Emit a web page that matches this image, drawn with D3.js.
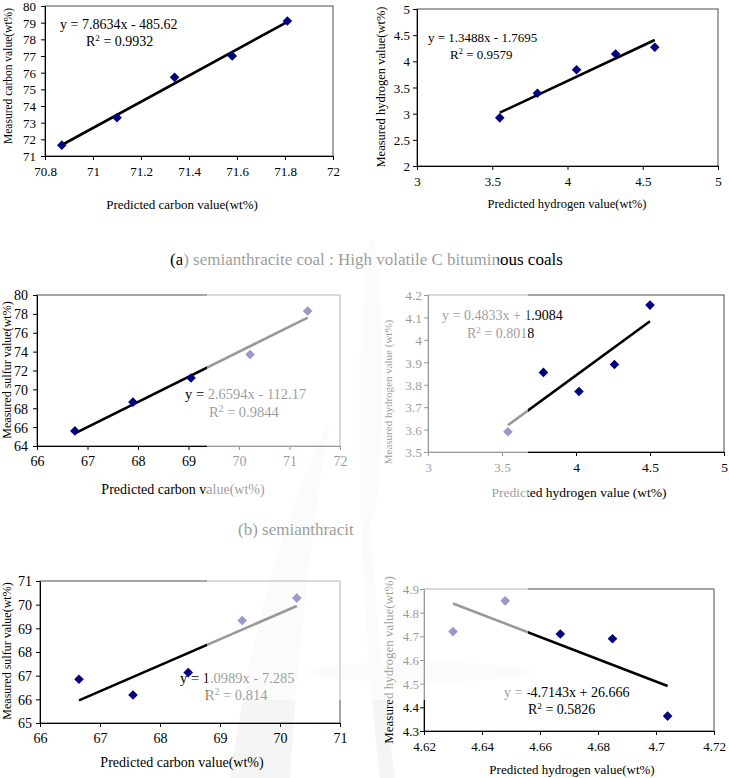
<!DOCTYPE html>
<html><head><meta charset="utf-8">
<script src="https://cdn.jsdelivr.net/npm/d3@7"></script>
<style>html,body{margin:0;padding:0;background:#fff;}svg{display:block;}svg text{font-family:"Liberation Serif","Times New Roman",Times,"DejaVu Serif",serif;}</style>
</head><body>
<svg id="chart" width="729" height="778"></svg>
<script>
// ---- data ----
const p1X = [70.87, 71.10, 71.34, 71.58, 71.81];
const p1Y = [71.65, 73.30, 75.72, 77.00, 79.10];
const p1Fit = [7.8634, -485.62];
const p1Eq = ["y = 7.8634x - 485.62", "0.9932"];
const p1XTicks = [70.8, 71, 71.2, 71.4, 71.6, 71.8, 72];
const p1YTicks = [71, 72, 73, 74, 75, 76, 77, 78, 79, 80];

const p2X = [3.55, 3.80, 4.06, 4.32, 4.58];
const p2Y = [2.92, 3.39, 3.84, 4.14, 4.27];
const p2Fit = [1.3488, -1.7695];
const p2Eq = ["y = 1.3488x - 1.7695", "0.9579"];
const p2XTicks = [3, 3.5, 4, 4.5, 5];
const p2YTicks = [2, 2.5, 3, 3.5, 4, 4.5, 5];

const p3X = [66.75, 67.90, 69.05, 70.22, 71.36];
const p3Y = [65.60, 68.65, 71.20, 73.70, 78.30];
const p3Fit = [2.6594, -112.17];
const p3Eq = ["y = 2.6594x - 112.17", "0.9844"];
const p3XTicks = [66, 67, 68, 69, 70, 71, 72];
const p3YTicks = [64, 66, 68, 70, 72, 74, 76, 78, 80];

const p4X = [3.54, 3.78, 4.02, 4.26, 4.50];
const p4Y = [3.59, 3.855, 3.77, 3.89, 4.155];
const p4Fit = [0.4833, 1.9084];
const p4Eq = ["y = 0.4833x + 1.9084", "0.8018"];
const p4XTicks = [3, 3.5, 4, 4.5, 5];
const p4YTicks = [3.5, 3.6, 3.7, 3.8, 3.9, 4, 4.1, 4.2];

const p5X = [66.65, 67.55, 68.47, 69.37, 70.28];
const p5Y = [66.85, 66.18, 67.13, 69.33, 70.28];
const p5Fit = [1.0989, -7.285];
const p5Eq = ["y = 1.0989x - 7.285", "0.814"];
const p5XTicks = [66, 67, 68, 69, 70, 71];
const p5YTicks = [65, 66, 67, 68, 69, 70, 71];

const p6X = [4.630, 4.648, 4.667, 4.685, 4.704];
const p6Y = [4.72, 4.85, 4.71, 4.69, 4.363];
const p6Fit = [-4.7143, 26.666];
const p6Eq = ["y = -4.7143x + 26.666", "0.5826"];
const p6XTicks = [4.62, 4.64, 4.66, 4.68, 4.7, 4.72];
const p6YTicks = [4.3, 4.4, 4.5, 4.6, 4.7, 4.8, 4.9];

const xTitles = ["Predicted carbon value(wt%)", "Predicted hydrogen value(wt%)", "Predicted carbon value(wt%)",
                 "Predicted hydrogen value (wt%)", "Predicted carbon value(wt%)", "Predicted hydrogen value(wt%)"];
const yTitles = ["Measured carbon value(wt%)", "Measured hydrogen value(wt%)", "Measured sulfur value(wt%)",
                 "Measured hydrogen value (wt%)", "Measured sulfur value(wt%)", "Measured hydrogen value(wt%)"];
const captions = ["(a) semianthracite coal : High volatile C bituminous coals", "(b) semianthracit"];

// ---- layout ----
const layout = [
  {x0:45,x1:333,y0:6,y1:156, tick:13, ytf:11.5, xtf:13, eqf:14, eq:[60,29], r2:[86,46], xt:[182,209], yt:[8,76], ylOff:9},
  {x0:417,x1:718,y0:9,y1:166, tick:13, ytf:12.5, xtf:12.5, eqf:13, eq:[428,42], r2:[450,59], xt:[567,208], yt:[381,87], ylOff:7},
  {x0:37,x1:340,y0:295,y1:446, tick:14, ytf:12, xtf:14, eqf:14.5, eq:[185,399], r2:[209,417], xt:[183,494], yt:[7,370], ylOff:9},
  {x0:428,x1:724,y0:295,y1:452, tick:13.5, ytf:11, xtf:13.5, eqf:14, eq:[442,320], r2:[467,338], xt:[579,497], yt:[388,392], ylOff:6},
  {x0:40,x1:340,y0:581,y1:723, tick:14, ytf:12, xtf:14, eqf:14.5, eq:[180,683], r2:[205,700], xt:[182,767], yt:[7,651], ylOff:8},
  {x0:424,x1:714,y0:589,y1:731, tick:13, ytf:13, xtf:13, eqf:14, eq:[504,697], r2:[528,714], xt:[572,774], yt:[388,660], ylOff:5}
];

const panels = [
  {xs:p1X, ys:p1Y, fit:p1Fit, eq:p1Eq, xt:p1XTicks, yt:p1YTicks},
  {xs:p2X, ys:p2Y, fit:p2Fit, eq:p2Eq, xt:p2XTicks, yt:p2YTicks},
  {xs:p3X, ys:p3Y, fit:p3Fit, eq:p3Eq, xt:p3XTicks, yt:p3YTicks},
  {xs:p4X, ys:p4Y, fit:p4Fit, eq:p4Eq, xt:p4XTicks, yt:p4YTicks},
  {xs:p5X, ys:p5Y, fit:p5Fit, eq:p5Eq, xt:p5XTicks, yt:p5YTicks},
  {xs:p6X, ys:p6Y, fit:p6Fit, eq:p6Eq, xt:p6XTicks, yt:p6YTicks}
];

const svg = d3.select("#chart");

// faint watermark leaves behind everything
const wm = svg.append("g").attr("fill", "#f5f5f5");
wm.append("ellipse").attr("cx", 372).attr("cy", 380).attr("rx", 10).attr("ry", 140);
wm.append("ellipse").attr("cx", 420).attr("cy", 672).attr("rx", 110).attr("ry", 10);
wm.append("path").attr("d", "M230,780 Q260,560 330,420 Q300,600 290,780 Z");
wm.append("path").attr("d", "M360,330 Q368,560 395,780 L380,780 Q355,560 360,330 Z");

const fmt = v => String(+v.toFixed(4));
const diamond = "M0,-4.8L4.8,0L0,4.8L-4.8,0Z";

panels.forEach((p, i) => {
  const L = layout[i];
  const x = d3.scaleLinear().domain(d3.extent(p.xt)).range([L.x0, L.x1]);
  const y = d3.scaleLinear().domain(d3.extent(p.yt)).range([L.y1, L.y0]);
  const g = svg.append("g");

  g.append("rect").attr("x", L.x0).attr("y", L.y0).attr("width", L.x1 - L.x0).attr("height", L.y1 - L.y0)
    .attr("fill", "none").attr("stroke", "#4d4d4d").attr("stroke-width", 1);

  const xa = g.append("g").attr("transform", `translate(0,${L.y1})`)
    .call(d3.axisBottom(x).tickValues(p.xt).tickFormat(fmt).tickSize(4).tickSizeOuter(0));
  const ya = g.append("g").attr("transform", `translate(${L.x0},0)`)
    .call(d3.axisLeft(y).tickValues(p.yt).tickFormat(fmt).tickSize(4).tickSizeOuter(0));
  [xa, ya].forEach(a => {
    a.attr("font-family", null);
    a.select(".domain").attr("stroke", "#000");
    a.selectAll(".tick line").attr("stroke", "#000");
    a.selectAll("text").attr("font-size", L.tick).attr("fill", "#000");
  });
  xa.selectAll("text").attr("dy", null).attr("y", 20);
  ya.selectAll("text").attr("x", -L.ylOff).attr("dy", "0.35em");

  g.append("text").attr("x", L.xt[0]).attr("y", L.xt[1]).attr("text-anchor", "middle")
    .attr("font-size", L.xtf).text(xTitles[i]);
  g.append("text").attr("transform", `translate(${L.yt[0]},${L.yt[1]}) rotate(-90)`)
    .attr("text-anchor", "middle").attr("dy", "0.35em").attr("font-size", L.ytf).text(yTitles[i]);

  const xe = d3.extent(p.xs);
  g.append("line").attr("x1", x(xe[0])).attr("y1", y(p.fit[0] * xe[0] + p.fit[1]))
    .attr("x2", x(xe[1])).attr("y2", y(p.fit[0] * xe[1] + p.fit[1]))
    .attr("stroke", "#000").attr("stroke-width", 2.6);

  g.selectAll("path.pt").data(p.xs.map((v, k) => [v, p.ys[k]])).join("path")
    .attr("class", "pt").attr("d", diamond)
    .attr("transform", d => `translate(${x(d[0])},${y(d[1])})`)
    .attr("fill", "#000080");

  g.append("text").attr("x", L.eq[0]).attr("y", L.eq[1]).attr("font-size", L.eqf).text(p.eq[0]);
  const r = g.append("text").attr("x", L.r2[0]).attr("y", L.r2[1]).attr("font-size", L.eqf);
  r.append("tspan").text("R");
  r.append("tspan").attr("dy", -5).attr("font-size", L.eqf * 0.65).text("2");
  r.append("tspan").attr("dy", 5).text(" = " + p.eq[1]);
});

svg.append("text").attr("x", 170).attr("y", 265).attr("font-size", 17).text(captions[0]);
svg.append("text").attr("x", 238).attr("y", 535).attr("font-size", 17).text(captions[1]);

// watermark fading overlay
svg.append("path")
  .attr("d", "M182,242 L495,242 L500,272 L528,282 L528,700 L207,700 L207,282 L182,272 Z")
  .attr("fill", "#fff").attr("fill-opacity", 0.6);
</script>
</body></html>
